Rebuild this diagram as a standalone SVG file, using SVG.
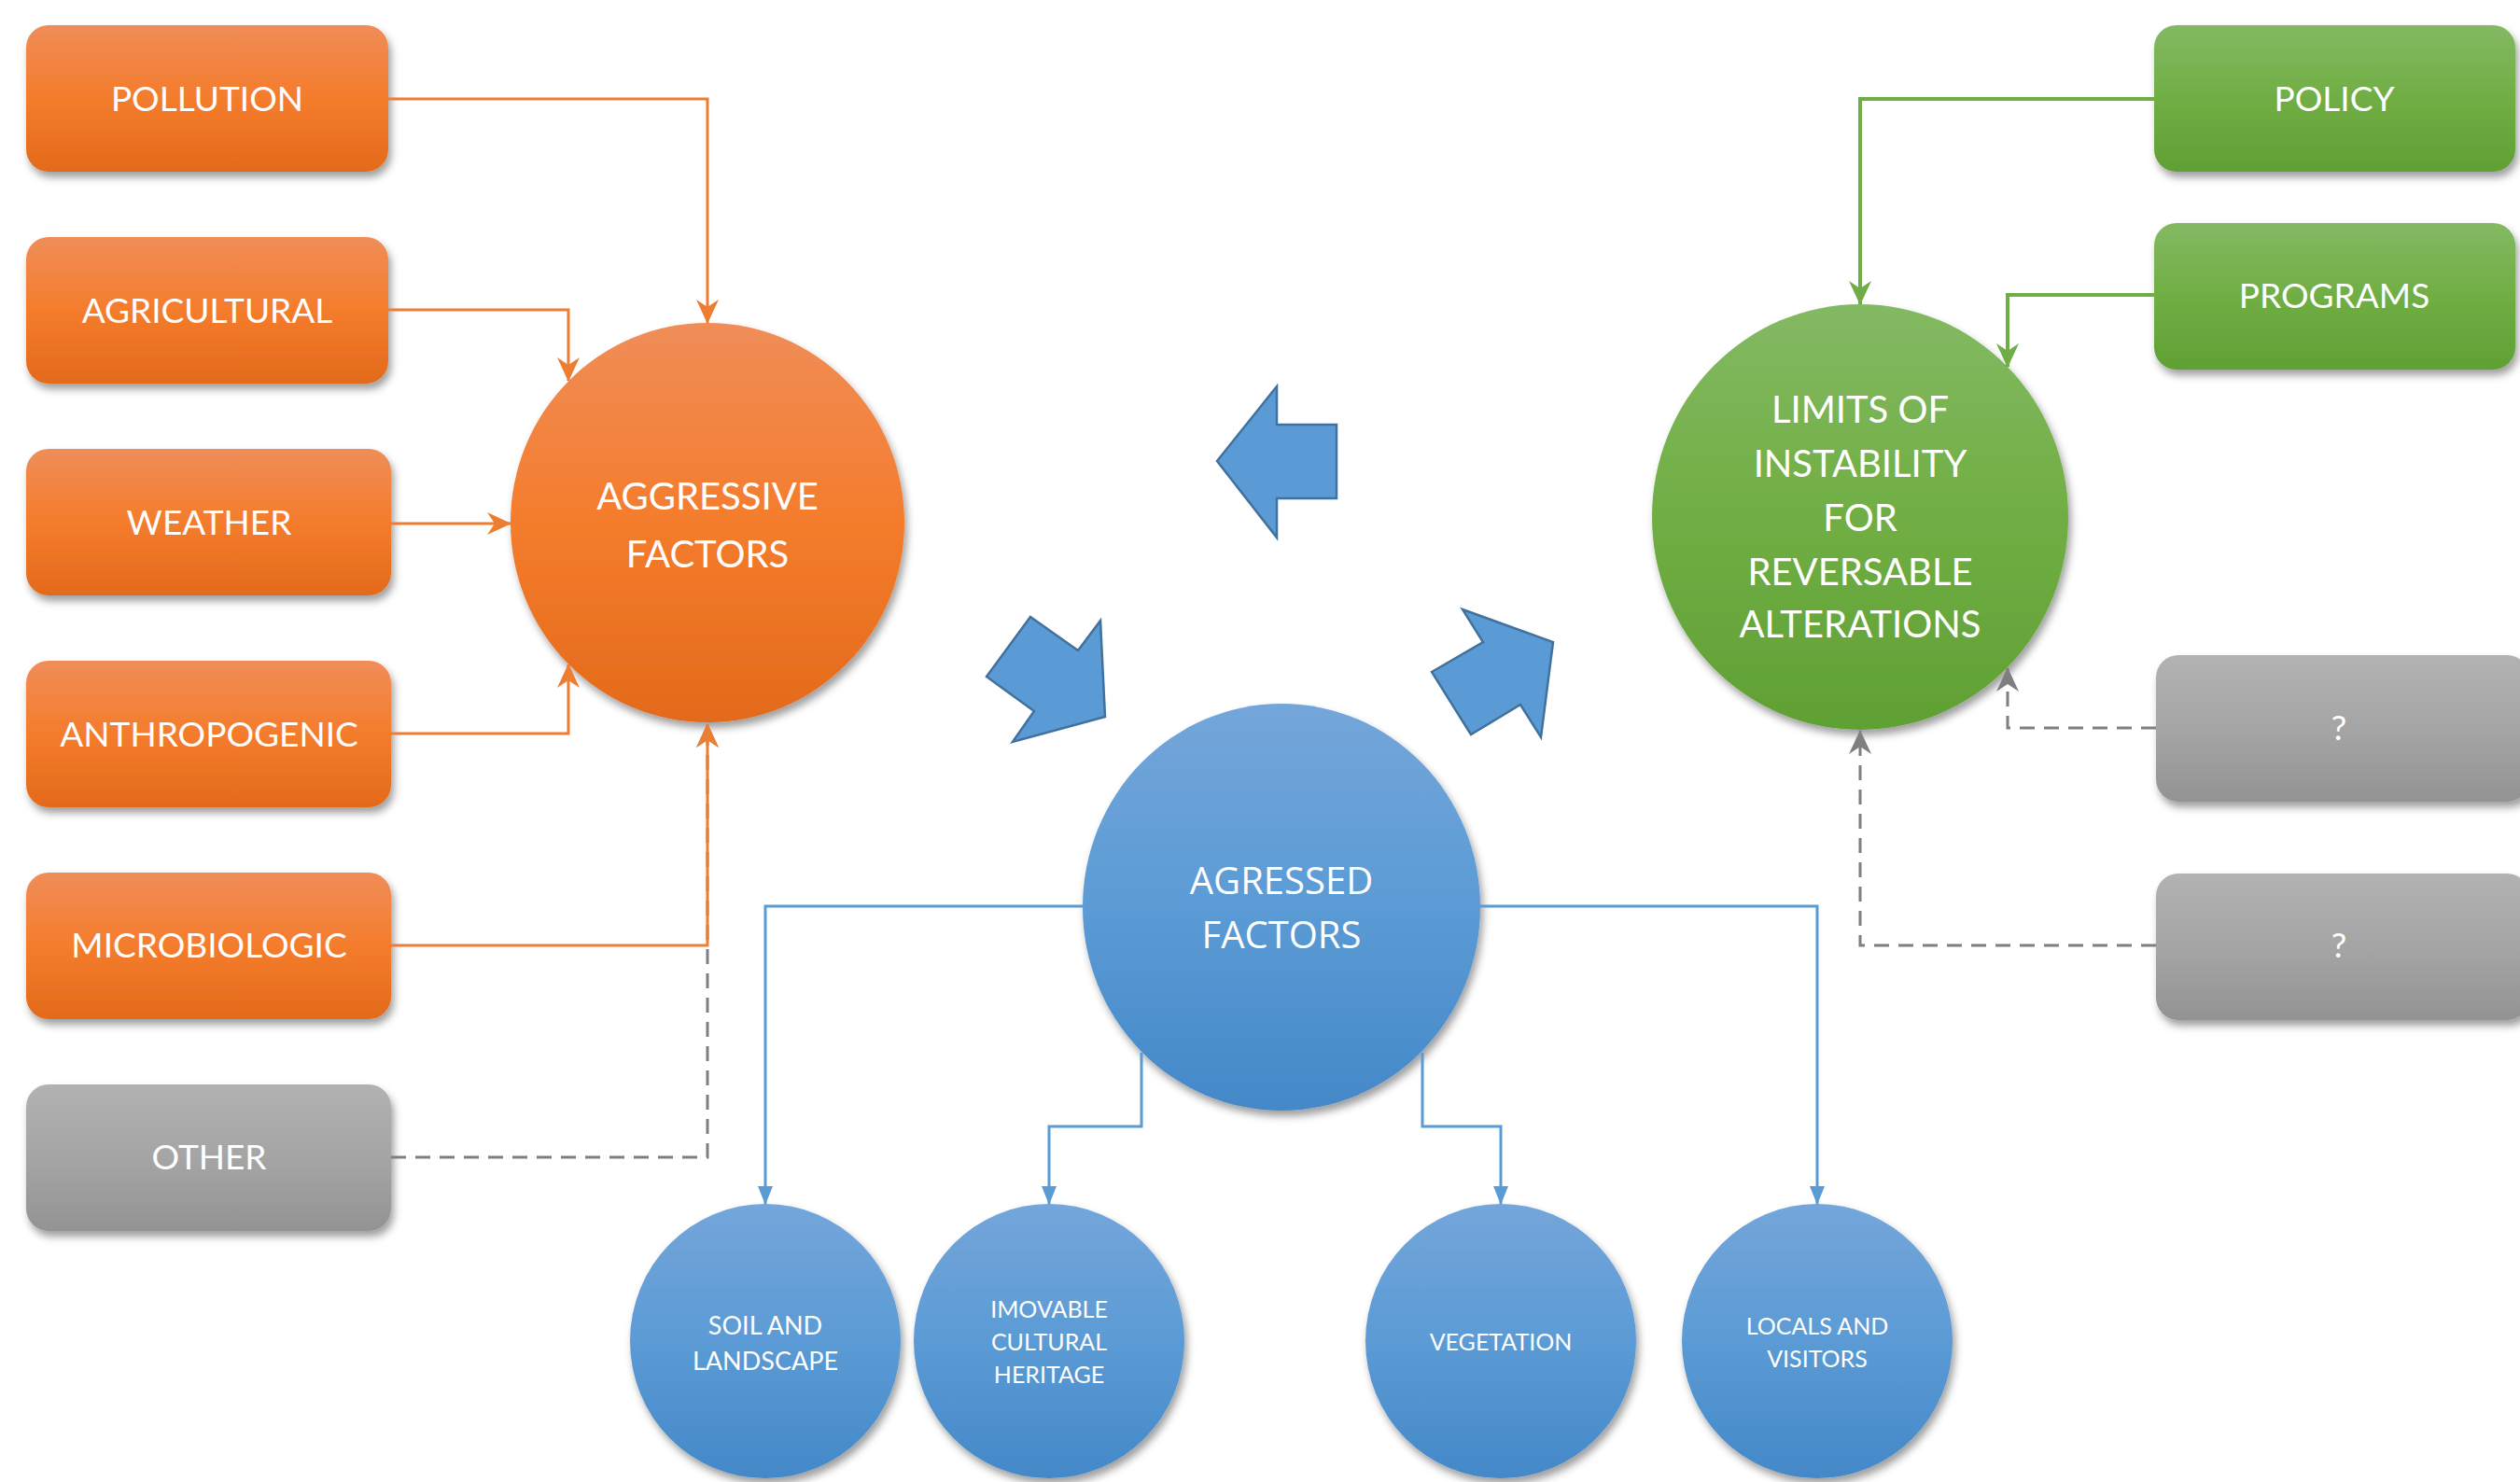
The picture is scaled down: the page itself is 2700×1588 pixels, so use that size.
<svg xmlns="http://www.w3.org/2000/svg" width="2700" height="1588" viewBox="0 0 2700 1588">
<defs>
<linearGradient id="gO" x1="0" y1="0" x2="0" y2="1"><stop offset="0" stop-color="#f08d58"/><stop offset="0.5" stop-color="#f47c2c"/><stop offset="1" stop-color="#e36a1a"/></linearGradient>
<linearGradient id="gG" x1="0" y1="0" x2="0" y2="1"><stop offset="0" stop-color="#83b963"/><stop offset="0.5" stop-color="#70ae44"/><stop offset="1" stop-color="#60a034"/></linearGradient>
<linearGradient id="gY" x1="0" y1="0" x2="0" y2="1"><stop offset="0" stop-color="#b2b2b2"/><stop offset="0.5" stop-color="#a5a5a5"/><stop offset="1" stop-color="#939393"/></linearGradient>
<linearGradient id="gB" x1="0" y1="0" x2="0" y2="1"><stop offset="0" stop-color="#74a6da"/><stop offset="0.5" stop-color="#5b9bd5"/><stop offset="1" stop-color="#4488c8"/></linearGradient>
<filter id="sh" x="-10%" y="-10%" width="125%" height="130%"><feDropShadow dx="3" dy="6" stdDeviation="4" flood-color="#000" flood-opacity="0.38"/></filter>
<marker id="mO" markerUnits="userSpaceOnUse" markerWidth="26" markerHeight="26" viewBox="0 0 26 26" refX="25" refY="13" orient="auto"><path d="M0,1 L26,13 L0,25 L8,13 Z" fill="#ed7d31"/></marker>
<marker id="mG" markerUnits="userSpaceOnUse" markerWidth="26" markerHeight="26" viewBox="0 0 26 26" refX="25" refY="13" orient="auto"><path d="M0,1 L26,13 L0,25 L8,13 Z" fill="#70ad47"/></marker>
<marker id="mY" markerUnits="userSpaceOnUse" markerWidth="26" markerHeight="26" viewBox="0 0 26 26" refX="25" refY="13" orient="auto"><path d="M0,1 L26,13 L0,25 L8,13 Z" fill="#7f7f7f"/></marker>
<marker id="mB" markerUnits="userSpaceOnUse" markerWidth="20" markerHeight="16" viewBox="0 0 20 16" refX="19" refY="8" orient="auto"><path d="M0,0 L20,8 L0,16 Z" fill="#5b9bd5"/></marker>
<style>
.box{filter:url(#sh)}
.t{font-family:Lato,"Open Sans","Liberation Sans",sans-serif;fill:#fff;text-anchor:middle}
.tb{font-size:37px}
.tc{font-size:40px}
.ts{font-size:27px}
.tx{font-size:25px}
.ta{font-family:"Open Sans","Liberation Sans",sans-serif;font-size:40px;fill:#fff;text-anchor:middle}
.cO{fill:none;stroke:#ed7d31;stroke-width:3;marker-end:url(#mO)}
.cG{fill:none;stroke:#70ad47;stroke-width:4;marker-end:url(#mG)}
.cY{fill:none;stroke:#7f7f7f;stroke-width:3;stroke-dasharray:16 10;marker-end:url(#mY)}
.cB{fill:none;stroke:#5b9bd5;stroke-width:3;marker-end:url(#mB)}
.bigarrow{fill:#5b9bd5;stroke:#41719c;stroke-width:2.5}
</style>
</defs>
<rect width="2700" height="1588" fill="#fff"/>

<g id="pollution"><rect class="box" x="28" y="27" width="388" height="157" rx="24" fill="url(#gO)"/><text class="t tb" x="222" y="119">POLLUTION</text></g>
<g id="agricultural"><rect class="box" x="28" y="254" width="388" height="157" rx="24" fill="url(#gO)"/><text class="t tb" x="222" y="346">AGRICULTURAL</text></g>
<g id="weather"><rect class="box" x="28" y="481" width="391" height="157" rx="24" fill="url(#gO)"/><text class="t tb" x="224" y="573">WEATHER</text></g>
<g id="anthropogenic"><rect class="box" x="28" y="708" width="391" height="157" rx="24" fill="url(#gO)"/><text class="t tb" x="224" y="800">ANTHROPOGENIC</text></g>
<g id="microbiologic"><rect class="box" x="28" y="935" width="391" height="157" rx="24" fill="url(#gO)"/><text class="t tb" x="224" y="1026">MICROBIOLOGIC</text></g>
<g id="other"><rect class="box" x="28" y="1162" width="391" height="157" rx="24" fill="url(#gY)"/><text class="t tb" x="224" y="1253">OTHER</text></g>

<g id="policy"><rect class="box" x="2308" y="27" width="387" height="157" rx="24" fill="url(#gG)"/><text class="t tb" x="2501" y="119">POLICY</text></g>
<g id="programs"><rect class="box" x="2308" y="239" width="387" height="157" rx="24" fill="url(#gG)"/><text class="t tb" x="2501" y="330">PROGRAMS</text></g>
<g id="unknown1"><rect class="box" x="2310" y="702" width="400" height="157" rx="24" fill="url(#gY)"/><text class="t tb" x="2506" y="793">?</text></g>
<g id="unknown2"><rect class="box" x="2310" y="936" width="400" height="157" rx="24" fill="url(#gY)"/><text class="t tb" x="2506" y="1026">?</text></g>

<g id="aggressive"><ellipse class="box" cx="758" cy="560" rx="211" ry="214" fill="url(#gO)"/><text class="t tc" x="758" y="546">AGGRESSIVE</text><text class="t tc" x="758" y="608">FACTORS</text></g>
<g id="agressed"><ellipse class="box" cx="1373" cy="972" rx="213" ry="218" fill="url(#gB)"/><text class="ta" x="1373" y="958">AGRESSED</text><text class="ta" x="1373" y="1016">FACTORS</text></g>
<g id="limits"><ellipse class="box" cx="1993" cy="554" rx="223" ry="228" fill="url(#gG)"/>
<text class="t tc" x="1993" y="453">LIMITS OF</text><text class="t tc" x="1993" y="511">INSTABILITY</text><text class="t tc" x="1993" y="569">FOR</text><text class="t tc" x="1993" y="627">REVERSABLE</text><text class="t tc" x="1993" y="683">ALTERATIONS</text></g>

<g id="soil"><ellipse class="box" cx="820" cy="1437" rx="145" ry="147" fill="url(#gB)"/><text class="t ts" x="820" y="1430">SOIL AND</text><text class="t ts" x="820" y="1468">LANDSCAPE</text></g>
<g id="imovable"><ellipse class="box" cx="1124" cy="1437" rx="145" ry="147" fill="url(#gB)"/><text class="t tx" x="1124" y="1412">IMOVABLE</text><text class="t tx" x="1124" y="1447">CULTURAL</text><text class="t tx" x="1124" y="1482">HERITAGE</text></g>
<g id="vegetation"><ellipse class="box" cx="1608" cy="1437" rx="145" ry="147" fill="url(#gB)"/><text class="t tx" x="1608" y="1447">VEGETATION</text></g>
<g id="locals"><ellipse class="box" cx="1947" cy="1437" rx="145" ry="147" fill="url(#gB)"/><text class="t tx" x="1947" y="1430">LOCALS AND</text><text class="t tx" x="1947" y="1465">VISITORS</text></g>

<g id="big-arrows">
<polygon class="bigarrow" points="1304,494 1368,414 1368,455 1432,455 1432,534 1368,534 1368,576"/>
<polygon class="bigarrow" points="1057,725 1104,661 1155,697 1179,665 1184,768 1085,795 1108,762"/>
<polygon class="bigarrow" points="1534,720 1589,688 1567,653 1664,688 1651,790 1629,755 1576,787"/>
</g>

<g id="connectors">
<path class="cY" d="M419,1240 H758 V776"/>
<path class="cO" d="M416,106 H758 V346"/>
<path class="cO" d="M416,332 H609 V408"/>
<path class="cO" d="M419,561 H547"/>
<path class="cO" d="M419,786 H609 V712"/>
<path class="cO" d="M419,1013 H758 V776"/>
<path class="cG" d="M2308,106 H1993 V326"/>
<path class="cG" d="M2308,316 H2151 V393"/>
<path class="cY" d="M2310,780 H2151 V716"/>
<path class="cY" d="M2310,1013 H1993 V783"/>
<path class="cB" d="M1160,971 H820 V1290"/>
<path class="cB" d="M1586,971 H1947 V1290"/>
<path class="cB" d="M1223,1128 V1207 H1124 V1290"/>
<path class="cB" d="M1524,1128 V1207 H1608 V1290"/>
</g>
</svg>
